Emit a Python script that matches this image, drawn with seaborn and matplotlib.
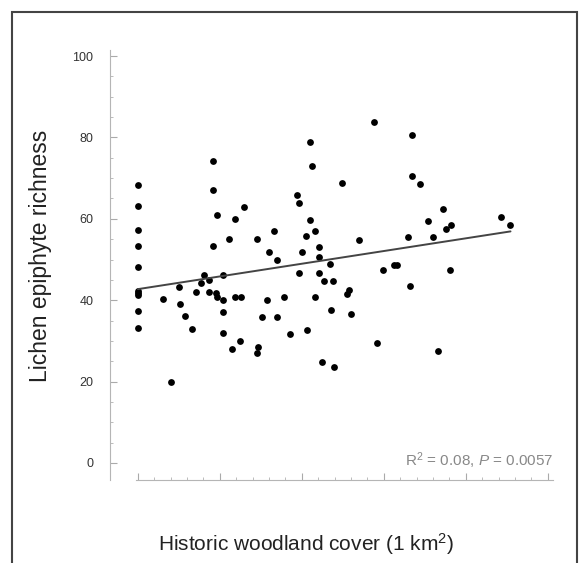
import numpy as np
import pandas as pd
import matplotlib
matplotlib.use("Agg")
import matplotlib.pyplot as plt
from matplotlib.patches import Rectangle
from matplotlib.ticker import MultipleLocator, NullFormatter
import seaborn as sns

# Historic woodland cover (x, arbitrary units) and lichen richness (y)
woodland = [
    0, 0, 0, 0, 0, 0, 0, 0, 0, 0,
    6.1, 8.2, 10.1, 10.2, 11.5, 13.1, 14.1, 15.4, 16.2, 17.3,
    17.4, 18.3, 18.3, 19.2, 18.3, 19.0, 19.2, 20.8, 20.8, 20.7,
    20.7, 22.3, 23.8, 25.9, 23.7, 25.1, 25.0, 22.9, 29.0, 29.3,
    29.0, 30.2, 31.4, 32.0, 34.0, 33.2, 33.9, 35.6, 37.1, 38.7,
    39.2, 39.2, 40.0, 41.0, 41.3, 42.1, 42.4, 42.0, 43.3, 43.2,
    44.1, 44.1, 44.2, 44.9, 45.4, 46.8, 47.1, 47.7, 47.9, 49.8,
    51.0, 51.5, 51.9, 53.9, 57.6, 58.3, 59.8, 62.4, 63.2, 66.0,
    66.3, 66.8, 66.9, 68.8, 70.8, 72.0, 73.2, 74.5, 75.1, 76.5,
    76.2, 88.7, 90.9,
]
richness = [
    68.3, 63.1, 57.2, 53.3, 48.1, 42.2, 41.7, 41.2, 37.3, 33.2,
    40.2, 20.0, 43.2, 39.1, 36.0, 33.0, 42.0, 44.2, 46.2, 45.0,
    42.0, 74.2, 67.0, 61.0, 53.3, 41.7, 40.8, 46.1, 40.0, 37.1,
    31.9, 55.1, 60.0, 63.0, 40.9, 40.9, 29.9, 27.9, 26.9, 28.5,
    55.1, 35.8, 40.0, 51.9, 49.9, 56.9, 35.8, 40.8, 31.8, 65.9,
    63.9, 46.8, 51.9, 55.9, 32.7, 78.9, 72.9, 59.8, 56.9, 40.8,
    53.0, 50.7, 46.7, 24.7, 44.6, 48.9, 37.7, 44.6, 23.6, 68.8,
    41.6, 42.6, 36.7, 54.8, 83.8, 29.5, 47.5, 48.7, 48.7, 55.6,
    43.6, 80.6, 70.6, 68.6, 59.4, 55.6, 27.4, 62.4, 57.5, 58.5,
    47.3, 60.4, 58.4,
]
y_ticks = [0, 20, 40, 60, 80, 100]
x_ticks = [0, 20, 40, 60, 80, 100]
x_minor = list(range(0, 101, 4))
stats_text = r"R$^2$ = 0.08, $P$ = 0.0057"

df = pd.DataFrame({"woodland": woodland, "richness": richness})

sns.set_theme(style="ticks")
plt.rcParams["font.family"] = ["Liberation Sans", "DejaVu Sans"]
plt.rcParams["mathtext.fontset"] = "custom"
plt.rcParams["mathtext.rm"] = "Liberation Sans"
plt.rcParams["mathtext.it"] = "Liberation Sans:italic"

fig = plt.figure(figsize=(5.87, 5.63), dpi=100)
ax = fig.add_axes([110 / 587, 83 / 563, 446 / 587, 430 / 563])

sns.scatterplot(data=df, x="woodland", y="richness", color="black",
                s=24, linewidth=0, ax=ax)
sns.regplot(data=df, x="woodland", y="richness", scatter=False, ci=None,
            color="#444444", line_kws={"lw": 1.4}, ax=ax)

ax.set_xlim(-6.8, 102)
ax.set_ylim(-4.2, 101.5)

ax.set_yticks(y_ticks)
ax.yaxis.set_minor_locator(MultipleLocator(5))
ax.set_xticks(x_ticks)
ax.set_xticks(x_minor, minor=True)
ax.xaxis.set_major_formatter(NullFormatter())

ax.tick_params(axis="both", which="major", direction="in", length=5,
               width=0.8, color="#aaaaaa", labelsize=9, labelcolor="#333333")
ax.tick_params(axis="both", which="minor", direction="in", length=2.5,
               width=0.7, color="#bbbbbb")
ax.tick_params(axis="y", pad=12)

sns.despine(ax=ax)
ax.spines["bottom"].set_bounds(-0.5, 101.2)
for side in ["left", "bottom"]:
    ax.spines[side].set_color("#b5b5b5")
    ax.spines[side].set_linewidth(0.8)

ax.set_xlabel("Historic woodland cover (1 km$^2$)", fontsize=15, color="#222222")
ax.set_ylabel("Lichen epiphyte richness", fontsize=16.5, color="#222222")
ax.xaxis.set_label_coords(0.44, -0.118)
ax.yaxis.set_label_coords(-0.13, 0.521)

ax.text(101.2, 0.5, stats_text, ha="right", va="center",
        fontsize=11, color="#888888")

fig.patches.append(Rectangle((12 / 587, -0.05), 565 / 587, 1.05 - 12 / 563,
                             transform=fig.transFigure, fill=False,
                             edgecolor="#444444", lw=1.5))

fig.savefig("out.png", dpi=100)
